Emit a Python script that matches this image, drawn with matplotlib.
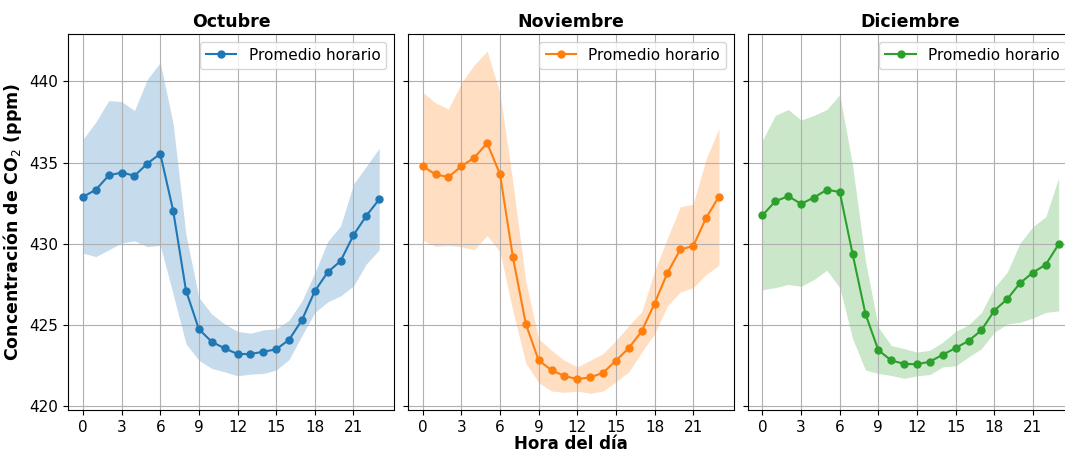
import matplotlib
matplotlib.use("Agg")
import matplotlib.pyplot as plt
import numpy as np

hours = list(range(24))
months = ["Octubre", "Noviembre", "Diciembre"]
colors = ["#1f77b4", "#ff7f0e", "#2ca02c"]

oct_mean = [432.89, 433.33, 434.21, 434.39, 434.19, 434.94, 435.55, 432.05, 427.11, 424.74,
            423.96, 423.56, 423.21, 423.21, 423.35, 423.50, 424.09, 425.30, 427.09, 428.25,
            428.94, 430.53, 431.73, 432.74]
oct_upper = [436.44, 437.50, 438.82, 438.76, 438.21, 440.14, 441.16, 437.40, 430.55, 426.69,
             425.67, 425.06, 424.61, 424.49, 424.70, 424.76, 425.30, 426.48, 428.21, 430.14,
             431.10, 433.68, 434.78, 435.89]
oct_lower = [429.43, 429.21, 429.63, 430.04, 430.18, 429.82, 429.90, 426.89, 423.84, 422.82,
             422.32, 422.11, 421.87, 421.97, 422.01, 422.22, 422.87, 424.35, 425.77, 426.42,
             426.79, 427.40, 428.76, 429.63]

nov_mean = [434.78, 434.27, 434.11, 434.78, 435.30, 436.20, 434.29, 429.19, 425.08, 422.82,
            422.22, 421.85, 421.67, 421.77, 422.05, 422.80, 423.58, 424.61, 426.32, 428.21,
            429.65, 429.86, 431.59, 432.91]
nov_upper = [439.33, 438.68, 438.31, 439.90, 441.02, 441.87, 439.29, 433.80, 427.70, 424.15,
             423.44, 422.82, 422.42, 422.82, 423.23, 424.04, 424.96, 425.81, 428.31, 430.35,
             432.28, 432.44, 435.22, 437.11]
nov_lower = [430.22, 429.84, 429.90, 429.82, 429.63, 430.51, 429.49, 425.87, 422.66, 421.44,
             420.93, 420.85, 420.93, 420.79, 420.93, 421.50, 422.11, 423.33, 424.45, 426.18,
             427.03, 427.30, 428.11, 428.68]

dic_mean = [431.75, 432.62, 432.93, 432.46, 432.85, 433.33, 433.19, 429.37, 425.67, 423.44,
            422.82, 422.60, 422.58, 422.74, 423.17, 423.58, 424.02, 424.67, 425.89, 426.59,
            427.58, 428.23, 428.72, 429.98]
dic_upper = [436.38, 437.91, 438.27, 437.62, 437.91, 438.27, 439.19, 434.82, 428.92, 424.86,
             423.74, 423.54, 423.33, 423.44, 423.94, 424.61, 425.00, 425.77, 427.30, 428.25,
             430.04, 431.06, 431.67, 434.07]
dic_lower = [427.17, 427.30, 427.50, 427.38, 427.80, 428.37, 427.30, 424.15, 422.22, 422.01,
             421.89, 421.71, 421.87, 421.95, 422.42, 422.48, 423.03, 423.54, 424.55, 425.06,
             425.16, 425.43, 425.77, 425.87]

means = [oct_mean, nov_mean, dic_mean]
uppers = [oct_upper, nov_upper, dic_upper]
lowers = [oct_lower, nov_lower, dic_lower]
xticks = [0, 3, 6, 9, 12, 15, 18, 21]

fig = plt.figure(figsize=(10.65, 4.53), dpi=100)
lefts = [0.064, 0.383, 0.702]
width = 0.306
axes = []
for i in range(3):
    ax = fig.add_axes([lefts[i], 0.094, width, 0.831], sharey=axes[0] if axes else None)
    axes.append(ax)
    ax.fill_between(hours, lowers[i], uppers[i], color=colors[i], alpha=0.25, linewidth=0)
    ax.plot(hours, means[i], marker="o", color=colors[i], markersize=5, linewidth=1.5,
            label="Promedio horario")
    ax.set_title(months[i], fontsize=12.5, fontweight="bold", pad=5)
    ax.set_xticks(xticks)
    ax.grid(True, color="#b0b0b0", linewidth=0.8)
    ax.tick_params(labelsize=11)
    ax.legend(loc="upper right", fontsize=11)
    if i > 0:
        ax.tick_params(labelleft=False)

axes[0].set_ylabel("Concentración de CO$_2$ (ppm)", fontsize=12.5, fontweight="bold")
axes[1].set_xlabel("Hora del día", fontsize=12, fontweight="bold", labelpad=0)

fig.savefig("out.png", dpi=100)
